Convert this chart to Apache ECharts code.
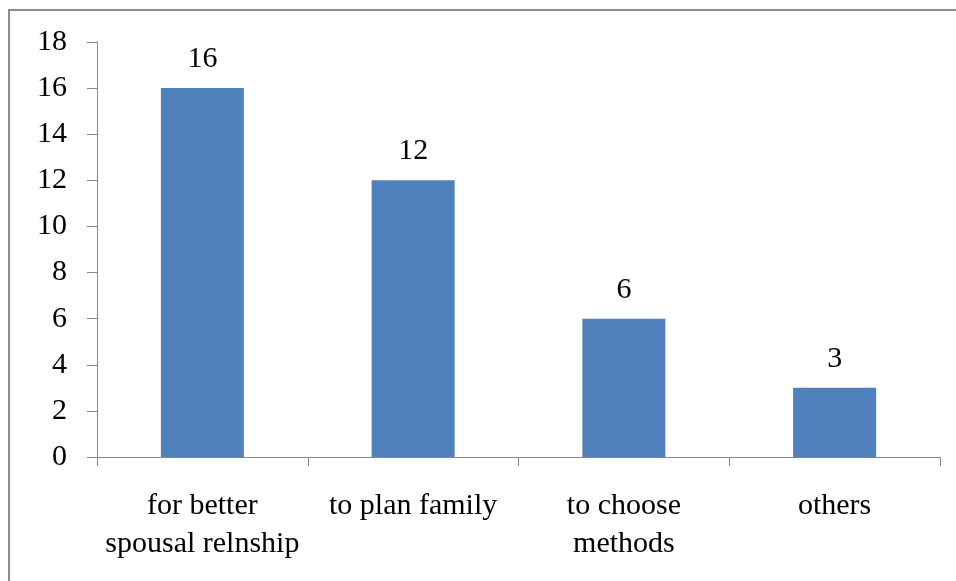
<!DOCTYPE html>
<html>
<head>
<meta charset="UTF-8">
<title>Reasons</title>
<script src="https://cdn.jsdelivr.net/npm/echarts@6/dist/echarts.min.js"></script>
<style>
    body { margin: 0; padding: 0; background: #fff; }
    #chart { width: 956px; height: 581px; }
</style>
</head>
<body>
<div id="chart"></div>
<script>
    var categories = ['for better\nspousal relnship', 'to plan family', 'to choose\nmethods', 'others'];
    var values = [16, 12, 6, 3];
    var yTicks = { min: 0, max: 18, interval: 2 };

    var font = "'Liberation Serif', 'Times New Roman', serif";
    var axisGray = '#868686';

    var chart = echarts.init(document.getElementById('chart'));
    chart.setOption({
        animation: false,
        grid: { left: 97, right: 16, top: 42, bottom: 124 },
        // outer frame (only top and left edges are visible in the original)
        graphic: [{
            type: 'rect',
            shape: { x: 9, y: 10, width: 1000, height: 700 },
            style: { fill: 'none', stroke: '#8c8c8c', lineWidth: 2 }
        }],
        xAxis: {
            type: 'category',
            data: categories,
            axisLine: { lineStyle: { color: axisGray, width: 1 } },
            axisTick: { show: true, length: 9, lineStyle: { color: axisGray } },
            axisLabel: {
                color: '#000', fontFamily: font, fontSize: 30,
                lineHeight: 38, margin: 30, interval: 0
            }
        },
        yAxis: {
            type: 'value',
            min: yTicks.min, max: yTicks.max, interval: yTicks.interval,
            splitLine: { show: false },
            axisLine: { show: true, lineStyle: { color: axisGray, width: 1 } },
            axisTick: { show: true, length: 10, lineStyle: { color: axisGray } },
            axisLabel: { color: '#000', fontFamily: font, fontSize: 30, margin: 30 }
        },
        series: [{
            type: 'bar',
            data: values,
            barWidth: 83,
            itemStyle: { color: '#4F81BD' },
            label: {
                show: true, position: 'top', distance: 14,
                color: '#000', fontFamily: font, fontSize: 30
            }
        }]
    });
</script>
</body>
</html>
